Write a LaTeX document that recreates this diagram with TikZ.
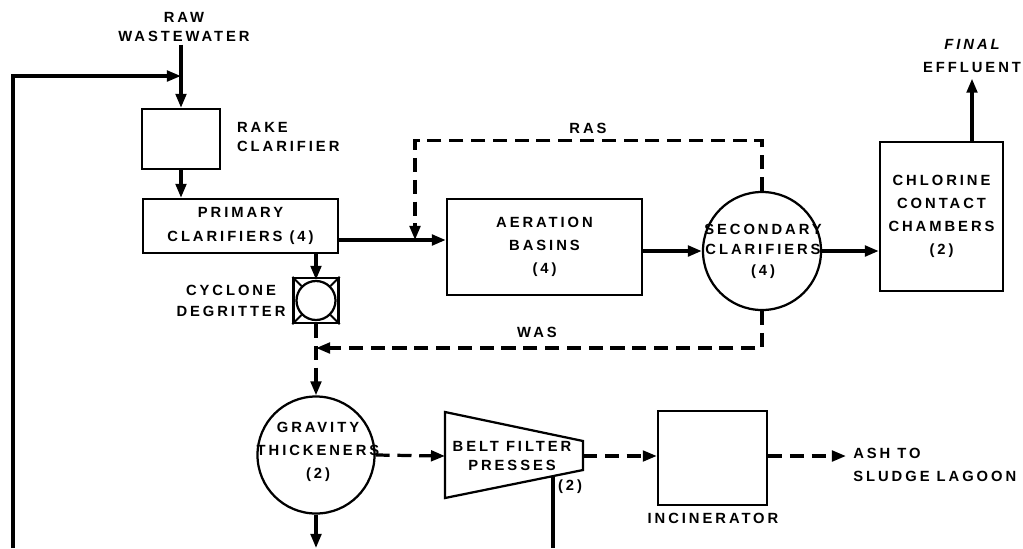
\documentclass[tikz,border=0pt]{standalone}
\usepackage{fontspec}
\usepackage{tikz}
\usetikzlibrary{arrows.meta,positioning,calc}
\newfontfamily\plantfont{Liberation Sans}[LetterSpace=20, BoldFont={Liberation Sans Bold}]
\tikzset{
  unit/.style={draw=black, line width=1.6pt, align=center, inner sep=2pt,
               font=\plantfont\bfseries\fontsize{10.5}{16.5}\selectfont},
  tank/.style={unit, circle, inner sep=0pt},
  lbl/.style={font=\plantfont\bfseries\fontsize{10.5}{16.5}\selectfont, align=center, inner sep=2pt},
  flow/.style={-{Triangle[length=10pt,width=7.5pt]}, line width=2.3pt},
  mainflow/.style={flow, line width=3.4pt},
  sludge/.style={flow, line width=2.3pt, dash pattern=on 10pt off 5.5pt},
  pipe/.style={line width=2.3pt},
}
\begin{document}
\begin{tikzpicture}[x=0.025cm, y=-0.025cm]
    \useasboundingbox (0,0) rectangle (1023,548);
    \node[lbl] (raw) at (184,27) {RAW\\[-3pt]WASTEWATER};
    \node[unit, minimum width=1.95cm, minimum height=1.5cm] (rake) at (181,139) {};
    \node[lbl, anchor=west, align=left] (rakelbl) at (234,137) {RAKE\\[-3pt]CLARIFIER};
    \node[unit, minimum width=4.875cm, minimum height=1.35cm] (primary) at (240.5,226) {PRIMARY\\CLARIFIERS (4)};
    \node[unit, minimum width=4.875cm, minimum height=2.4cm] (aeration) at (544.5,247) {AERATION\\BASINS\\(4)};
    \node[tank, minimum size=2.95cm] (secondary) at (762,251) {};
    \node[lbl] (seclbl) at (763,251) {SECONDARY\\[-2pt]CLARIFIERS\\[-2pt](4)};
    \node[unit, minimum width=3.075cm, minimum height=3.725cm] (chlorine) at (941.5,216.5) {CHLORINE\\CONTACT\\CHAMBERS\\(2)};
    \node[lbl, inner sep=4pt] (final) at (972,56) {{\itshape FINAL}\\EFFLUENT};
    \node[unit, minimum size=1.125cm] (cyclone) at (316,300.5) {};
    \node[tank, minimum size=0.975cm] (core) at (cyclone) {};
    \node[lbl] (cyclbl) at (231,301) {CYCLONE\\[-2pt]DEGRITTER};
    \node[tank, minimum size=2.925cm] (gravity) at (316,455) {};
    \node[lbl] (gravlbl) at (318,452) {GRAVITY\\THICKENERS\\(2)};
    \draw[line width=1.6pt] (445,412) coordinate (beltnw) -- (583,441) -- (583,470) -- (445,498) -- cycle;
    \node[lbl] (belt) at (512,456) {BELT FILTER\\[-3pt]PRESSES};
    \node[lbl] (beltno) at (570,487) {(2)};
    \coordinate (beltin) at (445,456);
    \coordinate (beltout) at (583,456);
    \coordinate (beltdrain) at (553,476);
    \node[unit, minimum width=2.725cm, minimum height=2.35cm] (incin) at (712.5,458) {};
    \node[lbl] (incinlbl) at (713,518) {INCINERATOR};
    \node[lbl, anchor=west, align=left, inner sep=5pt] (ash) at (846,465) {ASH TO\\SLUDGE LAGOON};
    \node[lbl] (ras) at (588,128) {RAS};
    \node[lbl] (was) at (537,332) {WAS};
    \coordinate (junction) at (181,76);
    \coordinate (recycle) at (13,548);
    \coordinate (mix) at (415,240);
    \coordinate (wasjoin) at (316,348);
    \coordinate (thickout) at (316,548);
    \coordinate (filtrate) at (553,548);
    \draw[flow] (rake.north |- raw.south) -- (rake.north);
    \draw[flow] (recycle) |- (junction);
    \draw[flow] (rake.south) -- (rake.south |- primary.north);
    \draw[mainflow] (primary.east |- mix) -- (aeration.west |- mix);
    \draw[sludge] (secondary.north) -- ++(0,-50) -| (mix);
    \draw[mainflow] (aeration.east |- secondary) -- (secondary.west);
    \draw[mainflow] (secondary.east) -- (chlorine.west |- secondary.east);
    \draw[flow] (chlorine.north -| final) -- (final.south);
    \draw[sludge] (primary.south -| cyclone) -- (core.north);
    \draw[line width=1.3pt] (cyclone.north east) -- (core.north east)
      (cyclone.north west) -- (core.north west)
      (cyclone.south east) -- (core.south east)
      (cyclone.south west) -- (core.south west);
    \draw[sludge] (cyclone.south) -- (gravity.north);
    \draw[sludge] (secondary.south) |- (wasjoin);
    \draw[sludge] (gravity.east) -- (beltin);
    \draw[sludge] (beltout) -- (beltout -| incin.west);
    \draw[sludge] (incin.east |- beltout) -- (beltout -| ash.west);
    \draw[flow] (gravity.south) -- (thickout);
    \draw[pipe] (beltdrain) -- (filtrate);
  \end{tikzpicture}
\end{document}
